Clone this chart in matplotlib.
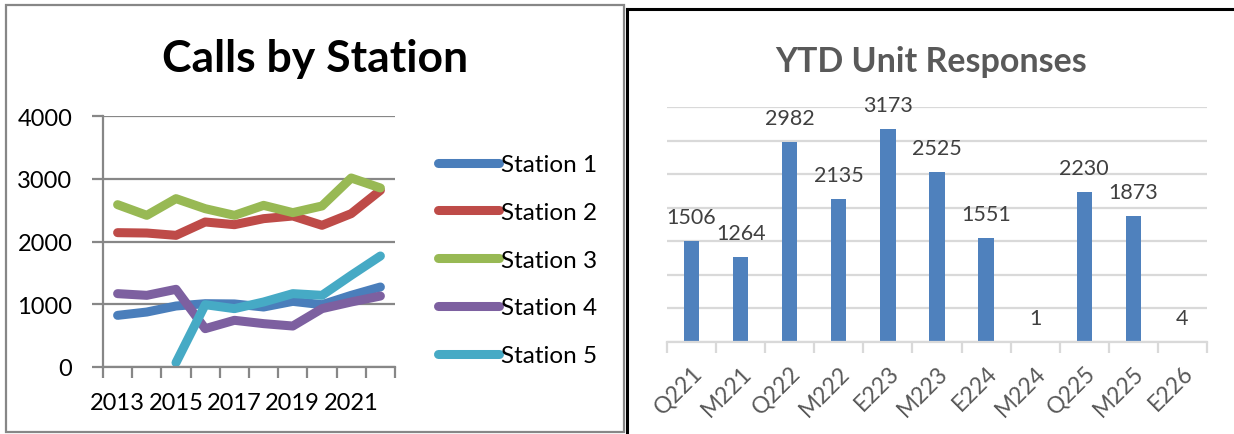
import matplotlib
matplotlib.use("Agg")
import matplotlib.pyplot as plt
from matplotlib.lines import Line2D
import numpy as np

plt.rcParams['font.family'] = ['Lato', 'DejaVu Sans']

# Calls by Station data
years = [2013, 2014, 2015, 2016, 2017, 2018, 2019, 2020, 2021, 2022]
station_1 = [823, 876, 972, 1009, 1005, 956, 1046, 993, 1142, 1275]
station_2 = [2141, 2135, 2098, 2311, 2268, 2364, 2406, 2258, 2444, 2815]
station_3 = [2587, 2417, 2683, 2523, 2417, 2576, 2460, 2566, 3012, 2853]
station_4 = [1169, 1142, 1238, 611, 744, 691, 653, 930, 1036, 1131]
station_5 = [None, None, 69, 993, 930, 1036, 1169, 1142, 1461, 1769]
station_names = ["Station 1", "Station 2", "Station 3", "Station 4", "Station 5"]
station_colors = ["#4A7EBB", "#BE4B48", "#98B954", "#7D60A0", "#46AAC5"]

# YTD Unit Responses data
units = ["Q221", "M221", "Q222", "M222", "E223", "M223", "E224", "M224", "Q225", "M225", "E226"]
responses = [1506, 1264, 2982, 2135, 3173, 2525, 1551, 1, 2230, 1873, 4]

W, H = 1234, 435
fig = plt.figure(figsize=(W / 100, H / 100), dpi=100)


def box(x0, y0, x1, y1):
    # pixel coords (top-left origin) -> figure fraction rect
    return [x0 / W, 1 - y1 / H, (x1 - x0) / W, (y1 - y0) / H]


# panel borders
fig.add_artist(plt.Rectangle((6 / W, 1 - 433 / H), (624 - 6) / W, (433 - 6) / H,
                             transform=fig.transFigure, fill=False, ec="#878787", lw=1.6))
fig.add_artist(Line2D([627 / W, 627 / W], [0, 1 - 10 / H], transform=fig.transFigure, color="black", lw=2.2))
fig.add_artist(Line2D([627 / W, 1], [1 - 10 / H, 1 - 10 / H], transform=fig.transFigure, color="black", lw=2.2))

# ---- left: line chart ----
ax1 = fig.add_axes(box(103, 117, 395, 368))
x = np.arange(len(years))
all_stations = [station_1, station_2, station_3, station_4, station_5]
for name, vals, c in zip(station_names, all_stations, station_colors):
    v = np.array([np.nan if a is None else a for a in vals], dtype=float)
    ax1.plot(x, v, color=c, lw=6.5, solid_capstyle="round", solid_joinstyle="round", label=name)

ax1.set_xlim(-0.5, len(years) - 0.5)
ax1.set_ylim(0, 4000)
ax1.set_yticks([0, 1000, 2000, 3000, 4000])
ax1.set_xticks(x[::2])
ax1.set_xticklabels([str(y) for y in years[::2]])
ax1.set_xticks(np.arange(-0.5, len(years)), minor=True)
ax1.tick_params(axis="x", which="major", length=0, pad=18, labelsize=17)
ax1.tick_params(axis="x", which="minor", length=8, width=1.6, color="#878787", direction="out")
ax1.tick_params(axis="y", length=8, width=1.6, color="#878787", pad=14, labelsize=17)
ax1.grid(axis="y", color="#878787", lw=1.6)
ax1.set_axisbelow(True)
for s in ["top", "right"]:
    ax1.spines[s].set_visible(False)
for s in ["left", "bottom"]:
    ax1.spines[s].set_color("#878787")
    ax1.spines[s].set_linewidth(1.6)

leg = ax1.legend(loc="upper left", bbox_to_anchor=(335 / 292, (368 - 155) / 251), frameon=False,
                 fontsize=17.5, handlelength=2.5, handletextpad=0.1, labelspacing=1.1,
                 borderaxespad=0, borderpad=0)
for h in leg.get_lines():
    h.set_linewidth(6.5)
    h.set_solid_capstyle("round")

fig.text(315 / W, 1 - 59 / H, "Calls by Station", ha="center", va="center",
         fontsize=32, fontweight="bold", color="black")

# ---- right: bar chart ----
ax2 = fig.add_axes(box(667, 108, 1207, 343))
xb = np.arange(len(units))
bars = ax2.bar(xb, responses, width=0.31, color="#4F81BD")
ax2.set_xlim(-0.5, len(units) - 0.5)
ax2.set_ylim(0, 3500)
ax2.set_yticks(np.arange(0, 3501, 500))
ax2.set_yticklabels([])
ax2.tick_params(axis="y", length=0)
ax2.grid(axis="y", color="#D9D9D9", lw=1.6)
ax2.set_axisbelow(True)
for s in ["top", "right", "left"]:
    ax2.spines[s].set_visible(False)
ax2.spines["bottom"].set_color("#D9D9D9")
ax2.spines["bottom"].set_linewidth(1.6)
ax2.set_xticks(xb)
ax2.set_xticklabels(units, rotation=45, ha="right", rotation_mode="anchor", color="#595959", fontsize=16.5)
ax2.set_xticks(np.arange(-0.5, len(units)), minor=True)
ax2.tick_params(axis="x", which="major", length=0, pad=14)
ax2.tick_params(axis="x", which="minor", length=8, width=1.6, color="#D9D9D9")

for xi, v in zip(xb, responses):
    ax2.annotate(str(v), (xi, v), xytext=(0, 13), textcoords="offset points",
                 ha="center", va="baseline", fontsize=15.5, color="#404040")

fig.text(931 / W, 1 - 62 / H, "YTD Unit Responses", ha="center", va="center",
         fontsize=24.5, fontweight="bold", color="#595959")

fig.savefig("out.png", dpi=100)
